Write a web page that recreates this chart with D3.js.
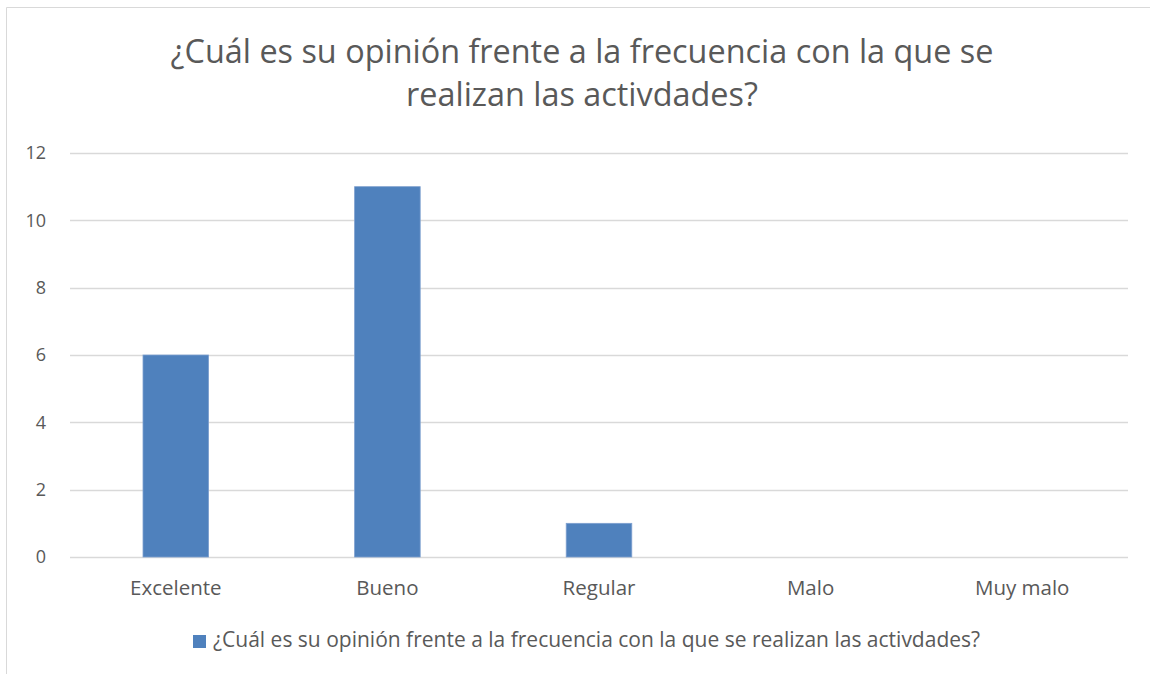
<!DOCTYPE html>
<html>
<head>
<meta charset="utf-8">
<script src="https://cdn.jsdelivr.net/npm/d3@7"></script>
<style>
  body { margin: 0; background: #fff; }
  svg { display: block; }
  text { font-family: "Open Sans", sans-serif; fill: #595959; }
</style>
</head>
<body>
<div id="chart"></div>
<script>
var width = 1150,
    height = 674,
    margin = { top: 153, right: 22, bottom: 117, left: 70 },
    innerWidth = width - margin.left - margin.right,
    innerHeight = height - margin.top - margin.bottom;

var categories = ["Excelente", "Bueno", "Regular", "Malo", "Muy malo"];
var values = [6, 11, 1, 0, 0];
var yTicks = [0, 2, 4, 6, 8, 10, 12];
var titleLines = ["¿Cuál es su opinión frente a la frecuencia con la que se", "realizan las activdades?"];
var seriesName = "¿Cuál es su opinión frente a la frecuencia con la que se realizan las activdades?";

var barColor = "#4f81bd";

var svg = d3.select("#chart")
    .append("svg")
    .attr("width", width)
    .attr("height", height);

// chart frame (only top and left edges are inside the picture)
svg.append("path")
    .attr("d", `M6.5,${height} V7.5 H${width}`)
    .style("fill", "none")
    .style("stroke", "#d9d9d9")
    .style("stroke-width", 1);

var x = d3.scaleBand()
    .domain(categories)
    .range([0, innerWidth])
    .paddingInner(0.69)
    .paddingOuter(0.345);

var y = d3.scaleLinear()
    .domain([0, 12])
    .range([innerHeight, 0]);

var g = svg.append("g")
    .attr("transform", `translate(${margin.left}, ${margin.top})`);

// gridlines
g.selectAll("line.grid")
    .data(yTicks)
    .enter()
    .append("line")
    .attr("class", "grid")
    .attr("x1", 0)
    .attr("x2", innerWidth)
    .attr("y1", d => Math.round(y(d)) + 0.5)
    .attr("y2", d => Math.round(y(d)) + 0.5)
    .style("stroke", "#d9d9d9")
    .style("stroke-width", 1.3);

// y tick labels
g.selectAll("text.ytick")
    .data(yTicks)
    .enter()
    .append("text")
    .attr("class", "ytick")
    .attr("x", -24)
    .attr("y", d => y(d))
    .attr("dy", "0.35em")
    .style("text-anchor", "end")
    .style("font-size", "18px")
    .text(d => d);

// bars
g.selectAll("rect.bar")
    .data(values)
    .enter()
    .append("rect")
    .attr("class", "bar")
    .attr("x", (d, i) => x(categories[i]))
    .attr("y", d => y(d))
    .attr("width", x.bandwidth())
    .attr("height", d => innerHeight - y(d))
    .style("fill", barColor)
    .style("stroke", "#7ea0cf")
    .style("stroke-width", 0.8)
    .style("display", d => d > 0 ? null : "none");

// x labels
g.selectAll("text.xlabel")
    .data(categories)
    .enter()
    .append("text")
    .attr("class", "xlabel")
    .attr("x", d => x(d) + x.bandwidth() / 2)
    .attr("y", innerHeight + 38)
    .style("text-anchor", "middle")
    .style("font-size", "20.5px")
    .text(d => d);

// title
svg.selectAll("text.title")
    .data(titleLines)
    .enter()
    .append("text")
    .attr("class", "title")
    .attr("x", 582)
    .attr("y", (d, i) => 63 + i * 43)
    .style("text-anchor", "middle")
    .style("font-size", "32.4px")
    .text(d => d);

// legend
var legend = svg.append("g")
    .attr("transform", "translate(193, 635)");

legend.append("rect")
    .attr("width", 13)
    .attr("height", 13)
    .style("fill", barColor);

legend.append("text")
    .attr("x", 20)
    .attr("y", 12)
    .style("font-size", "21px")
    .text(seriesName);
</script>
</body>
</html>
